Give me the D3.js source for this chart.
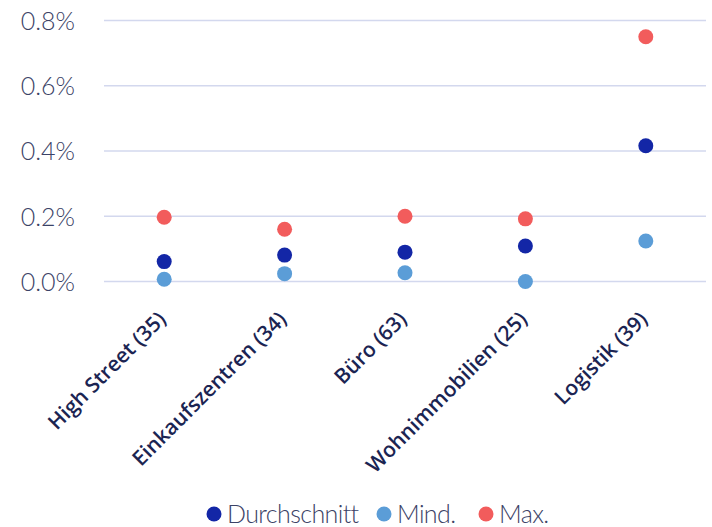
<!DOCTYPE html>
<html>
<head>
<meta charset="utf-8">
<script src="https://cdn.jsdelivr.net/npm/d3@7"></script>
<style>
  html, body { margin: 0; padding: 0; background: #fff; }
  svg { display: block; }
</style>
</head>
<body>
<svg id="chart" width="712" height="527"></svg>
<script>
// Sektoren mit Anzahl der Objekte
const categories = ["High Street (35)", "Einkaufszentren (34)", "Büro (63)", "Wohnimmobilien (25)", "Logistik (39)"];
// Werte in Prozent
const durchschnitt = [0.061, 0.081, 0.090, 0.109, 0.416];
const mind = [0.007, 0.024, 0.027, 0.000, 0.124];
const max = [0.197, 0.160, 0.200, 0.192, 0.750];
const yTicks = [0, 0.2, 0.4, 0.6, 0.8];

const series = [
  { name: "Durchschnitt", values: durchschnitt, color: "#1326a6" },
  { name: "Mind.", values: mind, color: "#5b9dd7" },
  { name: "Max.", values: max, color: "#f25c5c" }
];

const svg = d3.select("#chart");
const plotLeft = 104, plotRight = 706, plotTop = 20.5, plotBottom = 281.5;

const x = d3.scaleBand().domain(categories).range([plotLeft, plotRight]).padding(0);
const y = d3.scaleLinear().domain([0, 0.8]).range([plotBottom, plotTop]);

// Gitterlinien
svg.append("g")
  .selectAll("line")
  .data(yTicks)
  .join("line")
  .attr("x1", plotLeft).attr("x2", plotRight)
  .attr("y1", d => y(d)).attr("y2", d => y(d))
  .attr("stroke", "#d3d8ee")
  .attr("stroke-width", 1.5);

// Y-Achse
const yAxis = svg.append("g")
  .attr("transform", `translate(${plotLeft - 29},0)`)
  .call(d3.axisLeft(y).tickValues(yTicks).tickSize(0).tickPadding(0)
    .tickFormat(d => d.toFixed(1) + "%"));
yAxis.select(".domain").remove();
yAxis.selectAll("text")
  .attr("font-family", "Lato, sans-serif")
  .attr("font-weight", 300)
  .attr("font-size", 25)
  .attr("fill", "#3b4266")
  .attr("dy", "0.35em");

// X-Achse mit gedrehten Beschriftungen
const xAxis = svg.append("g")
  .attr("transform", `translate(0,${plotBottom})`)
  .call(d3.axisBottom(x).tickSize(0).tickPadding(0));
xAxis.select(".domain").remove();
xAxis.selectAll("text")
  .attr("font-family", "'Open Sans', sans-serif")
  .attr("font-weight", 600)
  .attr("font-size", 21)
  .attr("fill", "#1b2452")
  .attr("text-anchor", "end")
  .attr("dy", null)
  .attr("y", 0)
  .attr("transform", "translate(3,39) rotate(-45)");

// Punkte
svg.append("g")
  .selectAll("g")
  .data(series)
  .join("g")
  .attr("fill", s => s.color)
  .selectAll("circle")
  .data(s => s.values.map((v, i) => ({ v, c: categories[i] })))
  .join("circle")
  .attr("cx", d => x(d.c) + x.bandwidth() / 2)
  .attr("cy", d => y(d.v))
  .attr("r", 7.5);

// Legende
const legendPos = [214, 384, 486];
const legend = svg.append("g")
  .selectAll("g")
  .data(series)
  .join("g")
  .attr("transform", (d, i) => `translate(${legendPos[i]},514)`);
legend.append("circle").attr("r", 7.5).attr("fill", d => d.color);
legend.append("text")
  .attr("x", 13)
  .attr("y", 9)
  .attr("font-family", "Lato, sans-serif")
  .attr("font-weight", 300)
  .attr("font-size", 25)
  .attr("letter-spacing", -0.6)
  .attr("fill", "#3b4266")
  .text(d => d.name);
</script>
</body>
</html>
